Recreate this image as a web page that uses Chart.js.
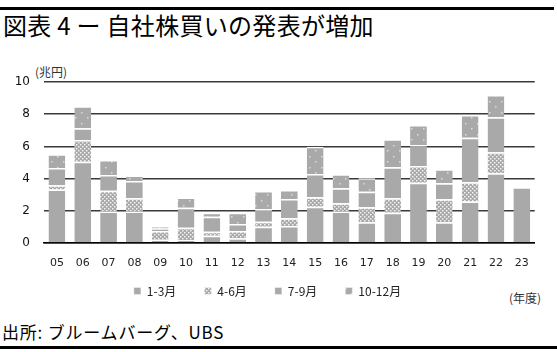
<!DOCTYPE html>
<html>
<head>
<meta charset="utf-8">
<script src="https://cdn.jsdelivr.net/npm/chart.js@4.4.1/dist/chart.umd.min.js"></script>
<style>
  body { margin: 0; width: 557px; height: 352px; background: #fff; position: relative; overflow: hidden;
         font-family: "Noto Sans CJK JP", "DejaVu Sans", sans-serif; }
  #topline { position: absolute; left: 0; top: 7px; width: 554px; height: 3px; background: #000; }
  #title { position: absolute; left: 3px; top: 8px; font-size: 24px; line-height: 34px; letter-spacing: 0.3px; color: #000; white-space: nowrap; }
  #unit { position: absolute; left: 35px; top: 63px; font-size: 12px; color: #333; }
  #fy { position: absolute; left: 509px; top: 289px; font-size: 12px; color: #333; }
  #source { position: absolute; left: 2px; top: 320px; font-size: 17px; line-height: 24px; letter-spacing: 0.8px; color: #000; white-space: nowrap; }
  #bottomline { position: absolute; left: 0; top: 346px; width: 557px; height: 3px; background: #000; }
  #wrap { position: absolute; left: 0; top: 60px; width: 543px; height: 263px; }
</style>
</head>
<body>
<div id="topline"></div>
<div id="title">図表 4 ー 自社株買いの発表が増加</div>
<div id="unit">(兆円)</div>
<div id="fy">(年度)</div>
<div id="source">出所: ブルームバーグ、UBS</div>
<div id="bottomline"></div>
<div id="wrap"><canvas id="buyback_chart"></canvas></div>
<script>
// Data (兆円)
var years = ['05','06','07','08','09','10','11','12','13','14','15','16','17','18','19','20','21','22','23'];
var q1 = [3.33, 5.05, 1.95, 1.95, 0.20, 0.19, 0.45, 0.29, 1.01, 1.06, 2.25, 1.95, 1.29, 1.88, 3.75, 1.29, 2.57, 4.33, 3.46];
var q2 = [0.25, 1.35, 1.30, 0.83, 0.55, 0.76, 0.25, 0.46, 0.31, 0.47, 0.59, 0.52, 0.93, 0.90, 1.03, 1.42, 1.20, 1.30, null];
var q3 = [1.08, 0.72, 0.97, 1.07, 0.15, 1.24, 0.93, 0.43, 0.77, 1.20, 1.45, 0.93, 0.97, 1.92, 1.31, 1.00, 2.77, 2.18, null];
var q4 = [0.86, 1.38, 0.94, 0.35, 0.12, 0.63, 0.25, 0.70, 1.14, 0.56, 1.69, 0.87, 0.83, 1.74, 1.24, 0.87, 1.41, 1.38, null];
var series_labels = ['1-3月', '4-6月', '7-9月', '10-12月'];

var grey = '#a9a9a9';

function makePattern(w, h, dots, dot_color){
    var c = document.createElement('canvas');
    c.width = w; c.height = h;
    var g = c.getContext('2d');
    g.fillStyle = grey;
    g.fillRect(0, 0, w, h);
    g.fillStyle = dot_color;
    dots.forEach(function(d){ g.fillRect(d[0], d[1], d[2], d[2]); });
    return g.createPattern(c, 'repeat');
}

var check_pattern = makePattern(4, 4, [[0,0,1.5],[2,2,1.5]], '#f2f2f2');
var dot_pattern = makePattern(12, 11, [[3,2,1.5],[9,8,1.5]], '#dcdcdc');

function seg(label, values, fill){
    return {
        label: label,
        data: values,
        backgroundColor: fill,
        borderColor: '#ffffff',
        borderWidth: {top: 1.5, left: 0, right: 0, bottom: 0},
        borderSkipped: false,
        categoryPercentage: 1.0,
        barPercentage: 0.65
    };
}

// pull the legend up closer to the axis labels
var legend_lift = {
    id: 'legend_lift',
    afterLayout: function(chart){
        chart.legend.top -= 16;
        chart.legend.bottom -= 16;
    }
};

var ctx = document.getElementById('buyback_chart').getContext('2d');

var buyback_chart = new Chart(ctx, {
    type: 'bar',
    data: {
        labels: years,
        datasets: [
            seg(series_labels[0], q1, grey),
            seg(series_labels[1], q2, check_pattern),
            seg(series_labels[2], q3, grey),
            seg(series_labels[3], q4, dot_pattern)
        ]
    },
    plugins: [legend_lift],
    options: {
        responsive: true,
        maintainAspectRatio: false,
        animation: false,
        layout: { padding: { top: 22, right: 8, left: 0, bottom: 0 } },
        plugins: {
            tooltip: { enabled: false },
            legend: {
                position: 'bottom',
                labels: {
                    boxWidth: 7,
                    boxHeight: 7,
                    padding: 28,
                    color: '#222',
                    font: { family: '"Noto Sans CJK JP", "DejaVu Sans", sans-serif', size: 12 }
                }
            }
        },
        scales: {
            x: {
                stacked: true,
                grid: { display: false, drawTicks: false },
                border: { display: true, color: '#000', width: 1.5 },
                ticks: {
                    padding: 14,
                    color: '#222',
                    font: { family: '"DejaVu Sans", sans-serif', size: 11 }
                },
                afterFit: function(scale){ scale.height = 30; }
            },
            y: {
                stacked: true,
                min: 0,
                max: 10,
                ticks: {
                    stepSize: 2,
                    padding: 14,
                    color: '#111',
                    font: { family: '"DejaVu Sans", sans-serif', size: 12 }
                },
                grid: { color: '#3a3a3a', lineWidth: 1.5, drawTicks: false },
                border: { display: false },
                afterFit: function(scale){ scale.width = 44; }
            }
        }
    }
});
</script>
</body>
</html>
